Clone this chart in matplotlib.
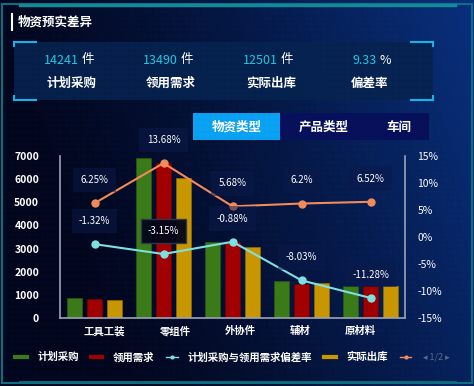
import numpy as np
import matplotlib.pyplot as plt
import matplotlib.transforms as mtransforms
from matplotlib.patches import Rectangle
from matplotlib.lines import Line2D

plt.rcParams['font.family'] = ['Noto Sans CJK SC', 'DejaVu Sans']

# data
categories = ['工具工装', '零组件', '外协件', '辅材', '原材料']
plan = [850, 6900, 3300, 1600, 1370]
demand = [810, 6680, 3270, 1480, 1370]
outbound = [770, 6030, 3080, 1500, 1370]
plan_vs_demand = [-1.32, -3.15, -0.88, -8.03, -11.28]
plan_vs_out = [6.25, 13.68, 5.68, 6.2, 6.52]

summary_vals = ['14241', '13490', '12501', '9.33']
summary_units = ['件', '件', '件', '%']
summary_names = ['计划采购', '领用需求', '实际出库', '偏差率']
tabs = ['物资类型', '产品类型', '车间']

W, H = 474, 386
fig = plt.figure(figsize=(W / 100, H / 100), dpi=100)

# background gradient
bg = fig.add_axes([0, 0, 1, 1])
gx = np.linspace(0, 1, 256)
gy = np.linspace(0, 1, 256)
X, Y = np.meshgrid(gx, gy)
t = np.clip(X * 0.85 + (1 - Y) * 0.25 - 0.2, 0, 1) ** 1.3
c0 = np.array([0x02, 0x06, 0x1c]) / 255
c1 = np.array([0x0a, 0x36, 0x8c]) / 255
img = c0[None, None, :] * (1 - t[..., None]) + c1[None, None, :] * t[..., None]
bg.imshow(img, extent=[0, W, H, 0], aspect='auto')
# faint grid texture
for v in np.arange(0, W, 6):
    bg.axvline(v, color='#3060c0', lw=0.3, alpha=0.1)
for v in np.arange(0, H, 6):
    bg.axhline(v, color='#3060c0', lw=0.3, alpha=0.1)
bg.set_xlim(0, W)
bg.set_ylim(H, 0)
bg.axis('off')

# outer frame
bg.add_patch(Rectangle((2, 4), W - 4, H - 7, fill=False, ec='#0b6f80', lw=1.5))
bg.plot([20, 455], [5, 5], color='#128a98', lw=2.5)
bg.plot([20, 455], [382, 382], color='#0b6f80', lw=2)

# title
bg.plot([12, 12], [14, 30], color='white', lw=1.5)
bg.text(18, 22, '物资预实差异', color='white', fontsize=9, va='center', ha='left', weight='bold')

# summary panel
bg.add_patch(Rectangle((14, 42), 419, 58, fc='#06224e', ec='none', alpha=0.9))
for (x0, y0, dx, dy) in [(14, 42, 1, 1), (433, 42, -1, 1), (14, 100, 1, -1), (433, 100, -1, -1)]:
    bg.plot([x0, x0 + 22 * dx], [y0, y0], color='#1ab0e8', lw=1.5)
    bg.plot([x0, x0], [y0, y0 + 4 * dy], color='#1ab0e8', lw=1.5)
centers = [72, 171, 271, 370]
for cx, val, unit, name in zip(centers, summary_vals, summary_units, summary_names):
    bg.text(cx + 7, 60, val, color='#1ec8e6', fontsize=9, ha='right', va='center')
    bg.text(cx + 10, 60, unit, color='white', fontsize=9, ha='left', va='center')
    bg.text(cx, 83, name, color='white', fontsize=9, ha='center', va='center', weight='bold')

# tabs
tab_x = [193, 280, 368, 429]
for i, name in enumerate(tabs):
    fc = '#0aa2f2' if i == 0 else '#070f58'
    bg.add_patch(Rectangle((tab_x[i], 113), tab_x[i + 1] - tab_x[i], 27, fc=fc, ec='none'))
    bg.text((tab_x[i] + tab_x[i + 1]) / 2, 127, name, color='white', fontsize=9,
            ha='center', va='center', weight='bold')

# main chart
ax = fig.add_axes([60 / W, 1 - 318 / H, (405 - 60) / W, (318 - 156) / H])
ax.patch.set_alpha(0)
x = np.arange(len(categories))
bw = 0.22
off = 0.29
ax.bar(x - off, plan, bw, color='#3a7a18', ec='#2a5a10', lw=0.5, label='计划采购')
ax.bar(x, demand, bw, color='#a00000', ec='#700000', lw=0.5, label='领用需求')
ax.bar(x + off, outbound, bw, color='#c89600', ec='#906c00', lw=0.5, label='实际出库')
ax.set_xlim(-0.5, len(categories) - 0.5)
ax.set_ylim(0, 7000)
ax.set_yticks(range(0, 7001, 1000))
ax.set_xticks(x)
ax.set_xticklabels(categories)
ax.spines['top'].set_visible(False)
for s in ['left', 'bottom', 'right']:
    ax.spines[s].set_color('#9aa4b8')
    ax.spines[s].set_linewidth(1.2)
ax.tick_params(axis='y', colors='white', labelsize=7.5, length=0, pad=15)
ax.tick_params(axis='x', colors='white', labelsize=7.5, length=0, pad=6)
for lab in ax.get_yticklabels():
    lab.set_fontweight('bold')
# labels in the reference drift a little off the group centres
label_shift = [10, 12, 8, -1, -10]
for lab, dx in zip(ax.get_xticklabels(), label_shift):
    lab.set_fontweight('bold')
    lab.set_transform(lab.get_transform() + mtransforms.ScaledTranslation(dx / 100, 0, fig.dpi_scale_trans))

ax2 = ax.twinx()
ax2.set_ylim(-15, 15)
ax2.set_yticks(range(-15, 16, 5))
ax2.set_yticklabels([f'{v}%' for v in range(-15, 16, 5)])
ax2.tick_params(colors='white', labelsize=7.5, length=0, pad=9)
for s in ax2.spines.values():
    s.set_visible(False)
l1, = ax2.plot(x, plan_vs_demand, color='#7ee0e0', lw=1.5, marker='o', ms=5,
               label='计划采购与领用需求偏差率')
l2, = ax2.plot(x, plan_vs_out, color='#f28a5a', lw=1.5, marker='o', ms=5,
               label='计划采购与实际出库偏差率')

for xi, v in zip(x, plan_vs_demand):
    strong = v == -3.15
    ax2.annotate(f'{v:g}%', (xi, v), xytext=(0, 13), textcoords='offset points',
                 ha='center', va='bottom', color='white', fontsize=7,
                 bbox=dict(boxstyle='square,pad=0.75',
                           fc='#03061a' if strong else '#0b1a4a',
                           ec='#303850' if strong else 'none',
                           alpha=0.95 if strong else 0.5))
for xi, v in zip(x, plan_vs_out):
    ax2.annotate(f'{v:g}%', (xi, v), xytext=(0, 13), textcoords='offset points',
                 ha='center', va='bottom', color='white', fontsize=7,
                 bbox=dict(boxstyle='square,pad=0.75', fc='#0b1a4a', ec='none', alpha=0.5))

# legend
handles = [Line2D([], [], color='#3a7a18', lw=3), Line2D([], [], color='#a00000', lw=3),
           Line2D([], [], color='#7ee0e0', lw=1, marker='o', ms=2),
           Line2D([], [], color='#c89600', lw=3),
           Line2D([], [], color='#f28a5a', lw=1, marker='o', ms=2)]
labels = ['计划采购', '领用需求', '计划采购与领用需求偏差率', '实际出库', ' ']
leg = fig.legend(handles, labels, loc='center left', bbox_to_anchor=(6 / W, 1 - 357 / H),
                 ncol=5, frameon=False, fontsize=7.5, handlelength=1.1, handletextpad=1.0,
                 columnspacing=1.15, labelcolor='white')
for txt in leg.get_texts():
    txt.set_fontweight('bold')
bg.text(436, 357, '◂ 1/2 ▸', color='#5a6a8a', fontsize=6.5, ha='center', va='center')

fig.savefig('out.png', dpi=100)
